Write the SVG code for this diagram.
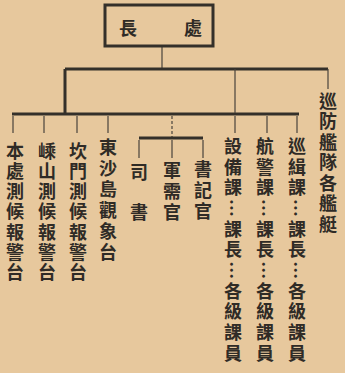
<svg xmlns="http://www.w3.org/2000/svg" width="345" height="373" viewBox="0 0 345 373">
<style>
.bg{fill:#e7c89d}
.t{font-family:"Noto Sans CJK TC","Noto Sans CJK SC",sans-serif;font-size:18px;fill:#2f2b26;font-weight:bold}
.v{writing-mode:vertical-rl;letter-spacing:2.5px}
.thick{stroke:#34302a;stroke-width:3;fill:none}
.thin{stroke:#4a443c;stroke-width:1.2;fill:none}
.dash{stroke:#4a443c;stroke-width:1.2;fill:none;stroke-dasharray:3 2}
</style>
<rect class="bg" width="345" height="373"/>
<g id="connectors">
<path class="thin" d="M162 46V68"/>
<path class="thick" d="M65 69H328M65 69V115M12 114H299"/>
<path class="thin" d="M235 69V113M328 69V89"/>
<path class="thin" d="M13 116V133M44 116V133M77 116V133M108 116V133M235 116V133M267 116V133M297 116V133"/>
<path class="dash" d="M172 116V137"/>
<path class="thick" d="M139 138H203"/>
<path class="thin" d="M139 140V158M172 140V158M203 140V158"/>
</g>
<g id="head">
<rect class="thick" x="105" y="5" width="108" height="41"/>
<text class="t" x="128" y="27" text-anchor="middle" dominant-baseline="central">長</text>
<text class="t" x="193" y="27" text-anchor="middle" dominant-baseline="central">處</text>
</g>
<g id="n1"><text class="t v" x="15" y="142" style="letter-spacing:2.2px">本處測候報警台</text></g>
<g id="n2"><text class="t v" x="47" y="142" style="letter-spacing:2.2px">嵊山測候報警台</text></g>
<g id="n3"><text class="t v" x="78" y="142" style="letter-spacing:2.2px">坎門測候報警台</text></g>
<g id="n4"><text class="t v" x="108" y="138" style="letter-spacing:3px">東沙島觀象台</text></g>
<g id="n5"><text class="t v" x="139" y="163" style="letter-spacing:22px">司書</text></g>
<g id="n6"><text class="t v" x="172" y="161" style="letter-spacing:3px">軍需官</text></g>
<g id="n7"><text class="t v" x="203" y="160" style="letter-spacing:3px">書記官</text></g>
<g id="n8"><text class="t v" x="233" y="137" style="letter-spacing:2.7px">設備課…課長…各級課員</text></g>
<g id="n9"><text class="t v" x="265" y="137" style="letter-spacing:2.7px">航警課…課長…各級課員</text></g>
<g id="n10"><text class="t v" x="297" y="137" style="letter-spacing:2.7px">巡緝課…課長…各級課員</text></g>
<g id="n11"><text class="t v" x="328" y="92" style="letter-spacing:2.5px">巡防艦隊各艦艇</text></g>
</svg>
